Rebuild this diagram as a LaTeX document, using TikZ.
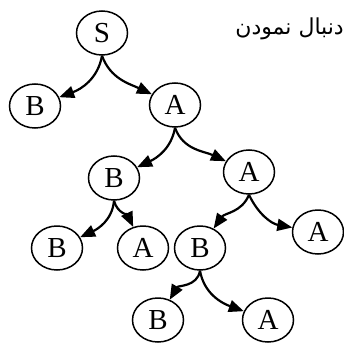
\documentclass[tikz,border=0pt]{standalone}
\usepackage{fontspec}
\setmainfont{Liberation Serif}
\newfontfamily\arabicfont[Script=Arabic]{DejaVu Sans}
\TeXXeTstate=1
\usepackage{tikz}
\usetikzlibrary{shapes.geometric, arrows.meta}

\begin{document}
\begin{tikzpicture}[
    x=1pt, y=-1pt,
    vertex/.style={ellipse, draw, line width=1.5pt, minimum width=51pt, minimum height=44pt, inner sep=0pt, font=\fontsize{29}{32}\selectfont},
    edge/.style={line width=2.2pt, -{Triangle[length=15pt, width=12pt]}},
]
    \useasboundingbox (0,0) rectangle (344,342);

    % Root
    \node[vertex] (S) at (102, 33) {S};

    % Level 1
    \node[vertex] (B1) at (35, 106) {B};
    \node[vertex] (A1) at (175, 105) {A};

    % Level 2
    \node[vertex] (B2) at (114, 178) {B};
    \node[vertex] (A2) at (249, 172) {A};

    % Level 3
    \node[vertex] (B3) at (57, 248) {B};
    \node[vertex] (A3) at (143, 248) {A};
    \node[vertex] (B4) at (200, 248) {B};
    \node[vertex] (A4) at (318, 232) {A};

    % Level 4
    \node[vertex] (B5) at (158, 320) {B};
    \node[vertex] (A5) at (268, 320) {A};

    % Connections
    \foreach \p/\c/\o/\i in {S/B1/-100/20, S/A1/-70/155, A1/B2/-100/25, A1/A2/-70/155,
                             B2/B3/-95/25, B2/A3/-75/115, A2/B4/-112/55, A2/A4/-65/170,
                             B4/B5/-100/60, B4/A5/-80/160}
        \draw[edge] (\p.south) to[out=\o, in=\i] (\c);

    % Label
    \node[anchor=east, inner sep=0pt, font=\fontsize{22}{26}\arabicfont] (title) at (344, 29) {\beginR دنبال نمودن\endR};
\end{tikzpicture}
\end{document}
